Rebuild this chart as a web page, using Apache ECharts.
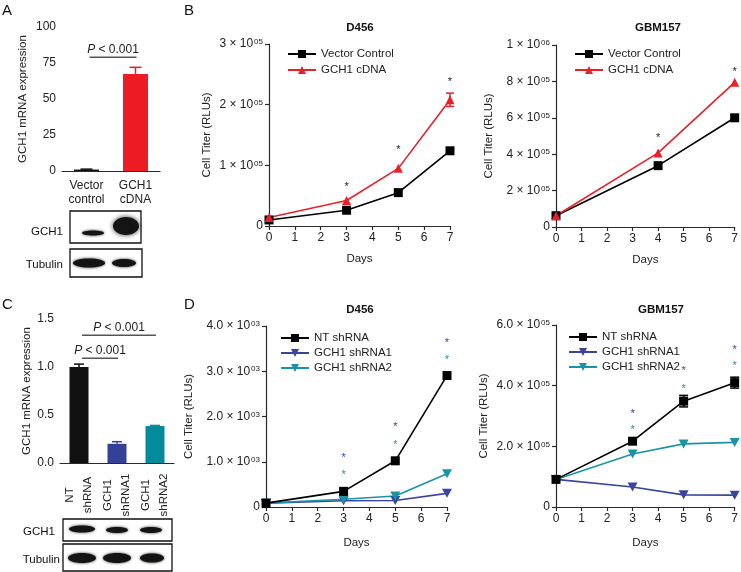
<!DOCTYPE html>
<html><head><meta charset="utf-8">
<script src="https://cdn.jsdelivr.net/npm/echarts@6/dist/echarts.min.js"></script>
<style>html,body{margin:0;padding:0;background:#fff}#c{width:741px;height:572px}</style>
</head><body><div id="c"></div>
<script>
// ---------------- data ----------------
const barACategories = ['Vector\ncontrol', 'GCH1\ncDNA'];
const barAValues = [1, 67.4];
const barAErrors = [0.3, 4.6];
const barAPLevel = 79;

const barCCategories = ['NT\nshRNA', 'GCH1\nshRNA1', 'GCH1\nshRNA2'];
const barCValues = [1.0, 0.2, 0.385];
const barCErrors = [0.03, 0.022, 0.006];
const barCPLevels = [1.33, 1.09];

const daysB456 = [0, 3, 5, 7];
const vectorB456 = [10000, 26000, 55000, 124000];
const cdnaB456 = [14000, 42000, 95000, 208000];
const cdnaB456Err = [0, 0, 0, 11000];
const starDaysB456 = [3, 5, 7];
const starB456 = [70000, 130000, 243000];

const daysB157 = [0, 4, 7];
const vectorB157 = [62000, 337000, 600000];
const cdnaB157 = [62000, 407000, 795000];
const starDaysB157 = [4, 7];
const starB157 = [505000, 868000];

const daysD = [0, 3, 5, 7];
const ntD456 = [85, 346, 1021, 2905];
const sh1D456 = [85, 139, 142, 302];
const sh2D456 = [85, 170, 243, 735];
const starDaysD = [3, 5, 7];
const star1D456 = [1149, 1834, 3691];
const star2D456 = [773, 1443, 3315];

const ntD157 = [91000, 217000, 349000, 410000];
const ntD157Err = [0, 5000, 19000, 18000];
const sh1D157 = [91000, 66000, 40000, 39000];
const sh2D157 = [91000, 175000, 208000, 213000];
const star1D157 = [317000, 458000, 529000];
const star2D157 = [263000, 400000, 474500];

// ---------------- style ----------------
const FONT = '"Liberation Sans", Arial, sans-serif';
const AX = '#2a2a2a';
const RED = '#e8202a';
const BLUE = '#3a449e';
const TEAL = '#1a93a5';
const BAR_BLUE = '#343f98';
const BAR_TEAL = '#038a9b';
const INV_TRI = 'path://M0,0 L10,0 L5,9 Z';

const chart = echarts.init(document.getElementById('c'), null, {renderer: 'canvas'});

const grids = [
  {left: 62, top: 27, width: 98, height: 144},
  {left: 269, top: 44, width: 181, height: 182},
  {left: 556, top: 45, width: 181, height: 182},
  {left: 60, top: 319, width: 114, height: 144},
  {left: 266, top: 326, width: 181, height: 181},
  {left: 556, top: 325, width: 181, height: 182}
];

const supRich = {s: {fontSize: 8, fontFamily: FONT, color: '#222', verticalAlign: 'top', padding: [0, 0, 0, 1]}};
function axisBase(extra) {
  return Object.assign({
    axisLine: {lineStyle: {color: AX, width: 1.2}},
    axisTick: {lineStyle: {color: AX, width: 1.2}, length: 4, inside: false},
    splitLine: {show: false},
    axisLabel: {color: '#222', fontSize: 12, fontFamily: FONT, margin: 6},
    nameTextStyle: {color: '#222', fontSize: 11.5, fontFamily: FONT}
  }, extra);
}
function sciFmt(div, dec, exp) {
  return function (v) {
    if (v === 0) return '0';
    return (v / div).toFixed(dec) + ' \u00d7 10{s|' + exp + '}';
  };
}

const xAxes = [
  axisBase({gridIndex: 0, type: 'category', data: barACategories,
    axisTick: {alignWithLabel: true, length: 4, lineStyle: {color: AX, width: 1.2}},
    axisLabel: {color: '#222', fontSize: 12, fontFamily: FONT, margin: 8, lineHeight: 14, interval: 0}}),
  axisBase({gridIndex: 1, type: 'value', min: 0, max: 7, interval: 1, name: 'Days', nameLocation: 'middle', nameGap: 27}),
  axisBase({gridIndex: 2, type: 'value', min: 0, max: 7, interval: 1, name: 'Days', nameLocation: 'middle', nameGap: 27}),
  axisBase({gridIndex: 3, type: 'category', data: barCCategories,
    axisTick: {alignWithLabel: true, length: 4, lineStyle: {color: AX, width: 1.2}},
    axisLabel: {color: '#222', fontSize: 11.5, fontFamily: FONT, rotate: 90, align: 'center', verticalAlign: 'middle', margin: 32, lineHeight: 18, interval: 0}}),
  axisBase({gridIndex: 4, type: 'value', min: 0, max: 7, interval: 1, name: 'Days', nameLocation: 'middle', nameGap: 30}),
  axisBase({gridIndex: 5, type: 'value', min: 0, max: 7, interval: 1, name: 'Days', nameLocation: 'middle', nameGap: 30})
];

const yAxes = [
  axisBase({gridIndex: 0, type: 'value', min: 0, max: 100, interval: 25, name: 'GCH1 mRNA expression', nameLocation: 'middle', nameGap: 33}),
  axisBase({gridIndex: 1, type: 'value', min: 0, max: 300000, interval: 100000, name: 'Cell Titer (RLUs)', nameLocation: 'middle', nameGap: 56,
    axisLabel: {color: '#222', fontSize: 12, fontFamily: FONT, margin: 6, formatter: sciFmt(100000, 0, '05'), rich: supRich}}),
  axisBase({gridIndex: 2, type: 'value', min: 0, max: 1000000, interval: 200000, name: 'Cell Titer (RLUs)', nameLocation: 'middle', nameGap: 61,
    axisLabel: {color: '#222', fontSize: 12, fontFamily: FONT, margin: 6, rich: supRich,
      formatter: function (v) { if (v === 0) return '0'; if (v >= 1000000) return (v / 1000000) + ' \u00d7 10{s|06}'; return (v / 100000) + ' \u00d7 10{s|05}'; }}}),
  axisBase({gridIndex: 3, type: 'value', min: 0, max: 1.5, interval: 0.5, name: 'GCH1 mRNA expression', nameLocation: 'middle', nameGap: 27,
    axisLabel: {color: '#222', fontSize: 12, fontFamily: FONT, margin: 6, formatter: function (v) { return v.toFixed(1); }}}),
  axisBase({gridIndex: 4, type: 'value', min: 0, max: 4000, interval: 1000, name: 'Cell Titer (RLUs)', nameLocation: 'middle', nameGap: 71,
    axisLabel: {color: '#222', fontSize: 12, fontFamily: FONT, margin: 6, formatter: sciFmt(1000, 1, '03'), rich: supRich}}),
  axisBase({gridIndex: 5, type: 'value', min: 0, max: 600000, interval: 200000, name: 'Cell Titer (RLUs)', nameLocation: 'middle', nameGap: 66,
    axisLabel: {color: '#222', fontSize: 12, fontFamily: FONT, margin: 6, formatter: sciFmt(100000, 1, '05'), rich: supRich}})
];

function zipXY(xs, ys) { return xs.map((x, i) => [x, ys[i]]); }

function errBarCat(colors, cap) {
  return function (params, api) {
    const i = api.value(0), v = api.value(1), e = api.value(2);
    const p0 = api.coord([i, v]), p1 = api.coord([i, v + e]);
    const c = colors[params.dataIndex];
    return {type: 'group', children: [
      {type: 'line', shape: {x1: p0[0], y1: p0[1], x2: p1[0], y2: p1[1]}, style: {stroke: c, lineWidth: 1.5}},
      {type: 'line', shape: {x1: p1[0] - cap / 2, y1: p1[1], x2: p1[0] + cap / 2, y2: p1[1]}, style: {stroke: c, lineWidth: 1.5}}
    ]};
  };
}
function errBarXY(color, cap) {
  return function (params, api) {
    const x = api.value(0), v = api.value(1), e = api.value(2);
    if (!e) return null;
    const pT = api.coord([x, v + e]), pB = api.coord([x, v - e]);
    return {type: 'group', children: [
      {type: 'line', shape: {x1: pT[0], y1: pT[1], x2: pB[0], y2: pB[1]}, style: {stroke: color, lineWidth: 1.5}},
      {type: 'line', shape: {x1: pT[0] - cap / 2, y1: pT[1], x2: pT[0] + cap / 2, y2: pT[1]}, style: {stroke: color, lineWidth: 1.5}},
      {type: 'line', shape: {x1: pB[0] - cap / 2, y1: pB[1], x2: pB[0] + cap / 2, y2: pB[1]}, style: {stroke: color, lineWidth: 1.5}}
    ]};
  };
}
function starRender(color, size) {
  return function (params, api) {
    const p = api.coord([api.value(0), api.value(1)]);
    return {type: 'text', x: p[0], y: p[1] + 3, z2: 10, style: {text: '*', fill: color, fontSize: size, fontFamily: FONT, align: 'center', verticalAlign: 'middle'}};
  };
}
function bracketRender(params, api) {
  const a = api.value(0), b = api.value(1), lvl = api.value(2);
  const pa = api.coord([a, lvl]), pb = api.coord([b, lvl]);
  return {type: 'group', children: [
    {type: 'line', shape: {x1: pa[0] + 3, y1: pa[1], x2: pb[0] + 1, y2: pb[1]}, style: {stroke: '#555', lineWidth: 1.5}},
    {type: 'text', x: (pa[0] + pb[0]) / 2 + 2, y: pa[1] - 2, style: {text: '{i|P} < 0.001', fill: '#222', fontSize: 12, fontFamily: FONT, align: 'center', verticalAlign: 'bottom',
      rich: {i: {fontStyle: 'italic', fontSize: 12, fontFamily: FONT, fill: '#222'}}}}
  ]};
}

function lineSeries(name, gi, xs, ys, color, symbol, size, extra) {
  return Object.assign({
    type: 'line', name: name, xAxisIndex: gi, yAxisIndex: gi, data: zipXY(xs, ys),
    symbol: symbol, symbolSize: size, showSymbol: true,
    lineStyle: {color: color, width: 1.6}, itemStyle: {color: color, borderWidth: 0},
    z: 3
  }, extra || {});
}

const series = [
  // A
  {type: 'bar', xAxisIndex: 0, yAxisIndex: 0, barWidth: 25,
    data: barAValues.map((v, i) => ({value: v, itemStyle: {color: ['#111', '#ed1c24'][i]}}))},
  {type: 'custom', xAxisIndex: 0, yAxisIndex: 0, renderItem: errBarCat(['#111', '#ed1c24'], 12),
    data: barAValues.map((v, i) => [i, v, barAErrors[i]]), z: 1},
  {type: 'custom', xAxisIndex: 0, yAxisIndex: 0, renderItem: bracketRender, data: [[0, 1, barAPLevel]]},
  // B D456
  lineSeries('Vector Control', 1, daysB456, vectorB456, '#000', 'rect', 9),
  lineSeries('GCH1 cDNA', 1, daysB456, cdnaB456, RED, 'triangle', 9),
  {type: 'custom', xAxisIndex: 1, yAxisIndex: 1, renderItem: errBarXY(RED, 8), data: daysB456.map((d, i) => [d, cdnaB456[i], cdnaB456Err[i]]), z: 4},
  {type: 'custom', xAxisIndex: 1, yAxisIndex: 1, renderItem: starRender('#222', 11), data: zipXY(starDaysB456, starB456)},
  // B GBM157
  lineSeries('Vector Control', 2, daysB157, vectorB157, '#000', 'rect', 9),
  lineSeries('GCH1 cDNA', 2, daysB157, cdnaB157, RED, 'triangle', 9),
  {type: 'custom', xAxisIndex: 2, yAxisIndex: 2, renderItem: starRender('#222', 11), data: zipXY(starDaysB157, starB157)},
  // C
  {type: 'bar', xAxisIndex: 3, yAxisIndex: 3, barWidth: 19,
    data: barCValues.map((v, i) => ({value: v, itemStyle: {color: ['#111', BAR_BLUE, BAR_TEAL][i]}}))},
  {type: 'custom', xAxisIndex: 3, yAxisIndex: 3, renderItem: errBarCat(['#111', BAR_BLUE, BAR_TEAL], 10),
    data: barCValues.map((v, i) => [i, v, barCErrors[i]]), z: 1},
  {type: 'custom', xAxisIndex: 3, yAxisIndex: 3, renderItem: bracketRender, data: [[0, 2, barCPLevels[0]], [0, 1, barCPLevels[1]]]},
  // D D456
  lineSeries('NT shRNA', 4, daysD, ntD456, '#000', 'rect', 9, {z: 4}),
  lineSeries('GCH1 shRNA1', 4, daysD, sh1D456, BLUE, INV_TRI, [10, 9]),
  lineSeries('GCH1 shRNA2', 4, daysD, sh2D456, TEAL, INV_TRI, [10, 9]),
  {type: 'custom', xAxisIndex: 4, yAxisIndex: 4, renderItem: starRender(BLUE, 11), data: zipXY(starDaysD, star1D456), z: 6},
  {type: 'custom', xAxisIndex: 4, yAxisIndex: 4, renderItem: starRender(TEAL, 11), data: zipXY(starDaysD, star2D456), z: 6},
  // D GBM157
  lineSeries('NT shRNA', 5, daysD, ntD157, '#000', 'rect', 9, {z: 4}),
  lineSeries('GCH1 shRNA1', 5, daysD, sh1D157, BLUE, INV_TRI, [10, 9]),
  lineSeries('GCH1 shRNA2', 5, daysD, sh2D157, TEAL, INV_TRI, [10, 9]),
  {type: 'custom', xAxisIndex: 5, yAxisIndex: 5, renderItem: errBarXY('#000', 9), data: daysD.map((d, i) => [d, ntD157[i], ntD157Err[i]]), z: 5},
  {type: 'custom', xAxisIndex: 5, yAxisIndex: 5, renderItem: starRender(BLUE, 11), data: zipXY(starDaysD, star1D157), z: 6},
  {type: 'custom', xAxisIndex: 5, yAxisIndex: 5, renderItem: starRender(TEAL, 11), data: zipXY(starDaysD, star2D157), z: 6}
];

function legendAt(left, top, names, gap) {
  return {left: left, top: top, orient: 'vertical', itemGap: gap, itemWidth: 28, itemHeight: 10,
    data: names, textStyle: {fontSize: 11.5, fontFamily: FONT, color: '#222', padding: [0, 0, 0, 0]}, selectedMode: false};
}
const legends = [
  legendAt(282, 43, ['Vector Control', 'GCH1 cDNA'], 4),
  legendAt(569, 43, ['Vector Control', 'GCH1 cDNA'], 4),
  legendAt(275, 327, ['NT shRNA', 'GCH1 shRNA1', 'GCH1 shRNA2'], 3),
  legendAt(563, 326, ['NT shRNA', 'GCH1 shRNA1', 'GCH1 shRNA2'], 3)
];

function txt(x, y, text, opts) {
  return {type: 'text', x: x, y: y, silent: true,
    style: Object.assign({text: text, fill: '#111', fontFamily: FONT, fontSize: 12, align: 'left', verticalAlign: 'middle'}, opts || {})};
}
function box(x, y, w, h) {
  return {type: 'rect', shape: {x: x, y: y, width: w, height: h}, silent: true, style: {fill: '#fff', stroke: '#111', lineWidth: 1.3}};
}
function band(cx, cy, rx, ry, blur) {
  return {type: 'ellipse', shape: {cx: cx, cy: cy, rx: rx, ry: ry}, silent: true,
    style: {fill: '#141414', shadowBlur: blur, shadowColor: 'rgba(0,0,0,0.8)'}};
}

const graphics = [
  txt(2, 11, 'A', {fontSize: 15}),
  txt(184, 11, 'B', {fontSize: 15}),
  txt(2, 305, 'C', {fontSize: 15}),
  txt(184, 305, 'D', {fontSize: 15}),
  txt(360, 28, 'D456', {fontSize: 11.5, fontWeight: 'bold', align: 'center'}),
  txt(658, 28, 'GBM157', {fontSize: 11.5, fontWeight: 'bold', align: 'center'}),
  txt(360, 310, 'D456', {fontSize: 11.5, fontWeight: 'bold', align: 'center'}),
  txt(661, 310, 'GBM157', {fontSize: 11.5, fontWeight: 'bold', align: 'center'}),
  // blot A
  box(70, 211, 71, 32),
  band(93, 233, 11, 2.5, 3),
  band(126, 226, 13, 9, 5),
  box(70, 249, 72, 28),
  band(89, 263, 16, 4.5, 3),
  band(124, 263, 12, 4, 3),
  txt(63, 232, 'GCH1', {align: 'right', fontSize: 11.5}),
  txt(63, 265, 'Tubulin', {align: 'right', fontSize: 11.5}),
  // blot C
  box(63, 519, 109, 22),
  band(82, 529, 13, 3.5, 3),
  band(117, 530, 11, 3, 3),
  band(151, 530, 11, 3, 3),
  box(63, 544, 109, 27),
  band(82, 558, 14, 5, 3),
  band(117, 558, 14, 5, 3),
  band(152, 558, 12, 4.5, 3),
  txt(55, 532, 'GCH1', {align: 'right', fontSize: 11.5}),
  txt(60, 560, 'Tubulin', {align: 'right', fontSize: 11.5})
];

chart.setOption({
  animation: false,
  backgroundColor: '#fff',
  textStyle: {fontFamily: FONT},
  grid: grids,
  xAxis: xAxes,
  yAxis: yAxes,
  legend: legends,
  series: series,
  graphic: graphics
});
</script></body></html>
